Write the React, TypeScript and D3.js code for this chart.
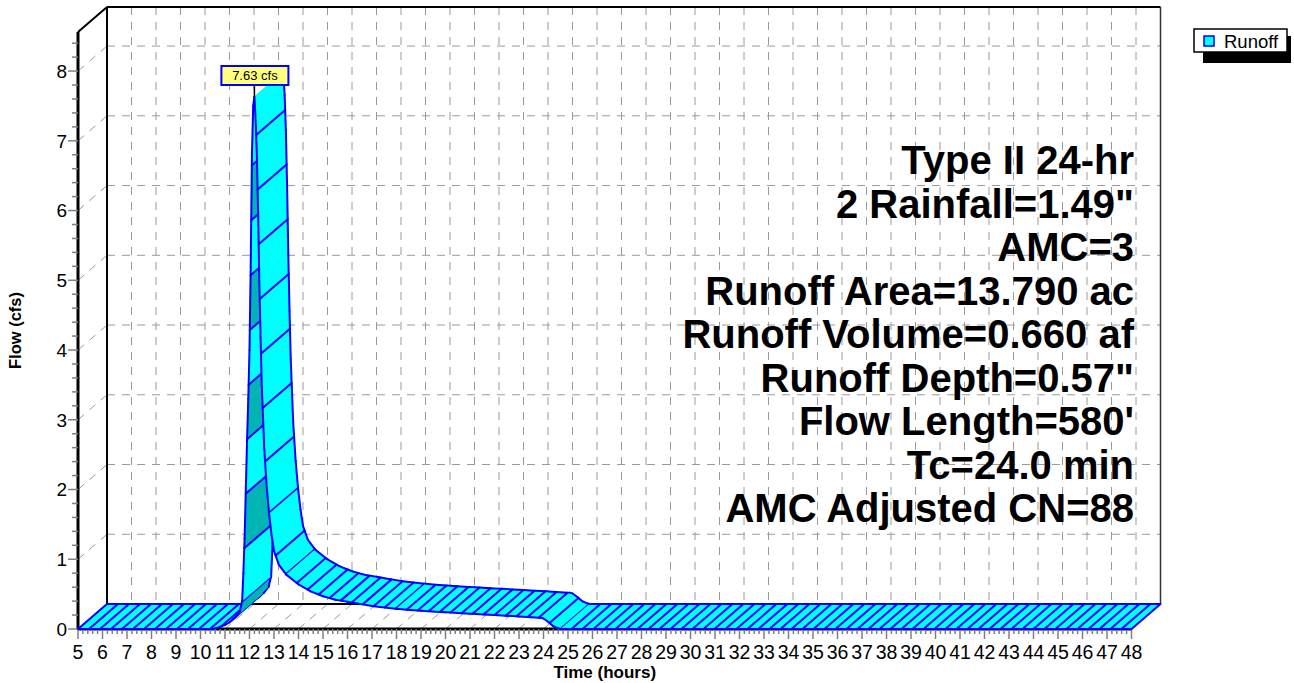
import React from 'react';
import * as d3 from 'd3';

// hydrograph (hours vs cfs)
const hours = [5, 10.5, 10.8, 11.0, 11.2, 11.4, 11.6, 11.7, 11.75, 11.8, 11.85, 11.9, 11.95, 12.0, 12.05, 12.1, 12.15, 12.2,
  12.25, 12.3, 12.35, 12.4, 12.45, 12.5, 12.6, 12.7, 12.8, 12.9, 13.0, 13.2, 13.5, 14.0, 14.5, 15.0, 15.5, 16.0, 16.5,
  17.0, 18.0, 19.0, 20.0, 21.0, 22.0, 23.0, 23.9, 24.0, 24.2, 24.4, 24.6, 24.7, 48];
const flows = [0, 0, 0.03, 0.06, 0.1, 0.16, 0.25, 0.4, 0.8, 1.3, 2.0, 2.7, 3.3, 4.0, 5.2, 6.8, 7.5, 7.63,
  7.3, 6.8, 6.0, 5.0, 4.2, 3.5, 2.6, 2.05, 1.65, 1.35, 1.12, 0.92, 0.78, 0.64, 0.54, 0.47, 0.42, 0.39, 0.36,
  0.33, 0.29, 0.26, 0.24, 0.22, 0.2, 0.18, 0.16, 0.15, 0.1, 0.04, 0.01, 0, 0];

const xTicks = d3.range(5, 49);
const yTicks = [0, 1, 2, 3, 4, 5, 6, 7, 8];
const infoLines = ['Type II 24-hr', '2 Rainfall=1.49"', 'AMC=3', 'Runoff Area=13.790 ac', 'Runoff Volume=0.660 af',
  'Runoff Depth=0.57"', "Flow Length=580'", 'Tc=24.0 min', 'AMC Adjusted CN=88'];
const peakTime = 12.2;
const peakFlow = 7.63;
const peakLabel = '7.63 cfs';
const seriesName = 'Runoff';

const FONT = '"Liberation Sans", Arial, sans-serif';
const X0 = 78, X1 = 1131.5, Y0 = 629, YTOP = 32;
const DX = 29, DY = -25;
const CYAN = '#00FFFF', DARK = '#00B4B4', BLUE = '#0000FF', GRID = '#9a9a9a';

const x = d3.scaleLinear().domain([5, 48]).range([X0, X1]);
const y = d3.scaleLinear().domain([0, 8.56]).range([Y0, YTOP]);

// split the ribbon into pieces at the hatch positions
function buildRibbon() {
  const pts = hours.map((t, i) => [x(t), y(flows[i])]);
  const K = 5, STEP = 11;
  const cum = [0];
  for (let i = 1; i < pts.length; i++) {
    const dx = pts[i][0] - pts[i - 1][0], dy = pts[i][1] - pts[i - 1][1];
    cum.push(cum[i - 1] + Math.hypot(dx, dy / K));
  }
  const total = cum[cum.length - 1];
  const hatchS = d3.range(0, total, STEP);
  let all = [...cum, ...hatchS].sort((a, b) => a - b);
  all = all.filter((s, i) => i === 0 || s - all[i - 1] > 0.01);
  const at = (s) => {
    let i = d3.bisectRight(cum, s) - 1;
    i = Math.max(0, Math.min(i, pts.length - 2));
    const u = (s - cum[i]) / (cum[i + 1] - cum[i]);
    return [pts[i][0] + u * (pts[i + 1][0] - pts[i][0]), pts[i][1] + u * (pts[i + 1][1] - pts[i][1])];
  };
  const isHatch = (s) => hatchS.some(h => Math.abs(h - s) < 0.02);
  const pieces = [];
  for (let k = 0; k < all.length - 1; k++) {
    const s0 = all[k], s1 = all[k + 1];
    const a = at(s0), b = at(s1);
    const sx = b[0] - a[0], sy = b[1] - a[1];
    const back = sx * DY - sy * DX > 0;
    const idx = Math.floor((s0 + s1) / 2 / STEP);
    pieces.push({ a, b, back, idx, hatch: isHatch(s0) });
  }
  return { pieces, last: pts[pts.length - 1] };
}

export default function App() {
  const { pieces, last } = buildRibbon();
  const bx0 = X0 + DX, bx1 = X1 + DX, byTop = YTOP + DY, byBot = Y0 + DY;
  const minorX = d3.range(5, 48.001, 0.2);
  const minorY = d3.range(0, 8.5, 0.2);
  const px = x(peakTime), py = y(peakFlow);

  return (
    <div style={{ position: 'absolute', left: 0, top: 0 }}>
      <svg width={1294} height={683} style={{ display: 'block', background: '#fff' }} fontFamily={FONT}>
        {/* back wall grid */}
        {yTicks.slice(1).map(v => (
          <line key={'hg' + v} x1={bx0} x2={bx1} y1={y(v) + DY} y2={y(v) + DY} stroke={GRID} strokeDasharray="8,7" />
        ))}
        {xTicks.slice(1, -1).map(t => (
          <line key={'vg' + t} x1={x(t) + DX} x2={x(t) + DX} y1={byTop} y2={byBot} stroke={GRID} strokeDasharray="8,7" />
        ))}
        {/* left wall and floor diagonals */}
        {yTicks.slice(1).map(v => (
          <line key={'lg' + v} x1={X0} y1={y(v)} x2={bx0} y2={y(v) + DY} stroke={GRID} strokeDasharray="8,7" />
        ))}
        {xTicks.slice(1, -1).map(t => (
          <line key={'fg' + t} x1={x(t)} y1={Y0} x2={x(t) + DX} y2={byBot} stroke={GRID} strokeDasharray="8,7" />
        ))}

        {/* frame */}
        <line x1={bx0} y1={byTop} x2={bx0} y2={byBot} stroke="#000" strokeWidth={2} />
        <line x1={bx0} y1={byTop} x2={bx1} y2={byTop} stroke="#000" strokeWidth={2} />
        <line x1={bx1} y1={byTop} x2={bx1} y2={byBot} stroke="#333" strokeWidth={1.5} />
        <line x1={bx0} y1={byBot} x2={bx1} y2={byBot} stroke="#000" strokeWidth={2} />
        <line x1={X0} y1={YTOP} x2={bx0} y2={byTop} stroke="#000" strokeWidth={2} />
        <line x1={X0} y1={YTOP} x2={X0} y2={Y0} stroke="#000" strokeWidth={3} />
        <line x1={X0} y1={Y0} x2={X1} y2={Y0} stroke="#000" strokeWidth={3} />

        {/* axis ticks */}
        {minorY.map(v => {
          const major = Math.abs(v - Math.round(v)) < 0.01;
          return <line key={'yt' + v} x1={major ? X0 - 10 : X0 - 6} x2={X0} y1={y(v)} y2={y(v)} stroke="#808080" strokeWidth={1.5} />;
        })}
        {minorX.map(t => {
          const major = Math.abs(t - Math.round(t)) < 0.01;
          return <line key={'xt' + t} x1={x(t)} x2={x(t)} y1={Y0} y2={major ? Y0 + 10 : Y0 + 5} stroke="#808080" strokeWidth={1.5} />;
        })}
        {yTicks.map(v => (
          <text key={'yl' + v} x={X0 - 11} y={y(v)} dy="0.36em" textAnchor="end" fontSize={19}>{v}</text>
        ))}
        {xTicks.map(t => (
          <text key={'xl' + t} x={x(t)} y={659} textAnchor="middle" fontSize={19.5}>{t}</text>
        ))}
        <text x={(X0 + X1) / 2} y={678} textAnchor="middle" fontSize={17} fontWeight="bold">Time  (hours)</text>
        <text transform={`translate(21,${(YTOP + Y0) / 2}) rotate(-90)`} textAnchor="middle" fontSize={16.5} fontWeight="bold">Flow  (cfs)</text>

        {/* ribbon */}
        {pieces.map((p, i) => {
          const fill = p.back && p.idx % 2 === 0 ? DARK : CYAN;
          const a2 = [p.a[0] + DX, p.a[1] + DY], b2 = [p.b[0] + DX, p.b[1] + DY];
          return (
            <g key={'rb' + i}>
              <polygon points={[p.a, p.b, b2, a2].map(q => q.join(',')).join(' ')} fill={fill} stroke={fill} strokeWidth={0.6} />
              <line x1={p.a[0]} y1={p.a[1]} x2={p.b[0]} y2={p.b[1]} stroke={BLUE} strokeWidth={2} strokeLinecap="round" />
              <line x1={a2[0]} y1={a2[1]} x2={b2[0]} y2={b2[1]} stroke={BLUE} strokeWidth={2} strokeLinecap="round" />
              {p.hatch && <line x1={p.a[0]} y1={p.a[1]} x2={a2[0]} y2={a2[1]} stroke={BLUE} strokeWidth={2} />}
            </g>
          );
        })}
        <line x1={last[0]} y1={last[1]} x2={last[0] + DX} y2={last[1] + DY} stroke={BLUE} strokeWidth={2} />

        {/* peak label */}
        <line x1={px} y1={py} x2={px} y2={85} stroke="#000" strokeWidth={1.5} />
        <rect x={px - 33} y={66} width={67} height={19} fill="#FFFF80" stroke={BLUE} strokeWidth={2} />
        <text x={px + 0.5} y={80} textAnchor="middle" fontSize={13}>{peakLabel}</text>

        {/* info block */}
        {infoLines.map((s, i) => (
          <text key={'in' + i} x={1134} y={174 + i * 43.5} textAnchor="end" fontSize={40} fontWeight="bold">{s}</text>
        ))}

        {/* legend */}
        <rect x={1203} y={36} width={88} height={27} fill="#000" />
        <rect x={1194} y={29} width={93} height={23} fill="#fff" stroke="#000" strokeWidth={1.5} />
        <rect x={1204} y={36} width={10} height={10} fill={CYAN} stroke={BLUE} strokeWidth={1.5} />
        <text x={1224} y={47.5} fontSize={18.5}>{seriesName}</text>
      </svg>
    </div>
  );
}
